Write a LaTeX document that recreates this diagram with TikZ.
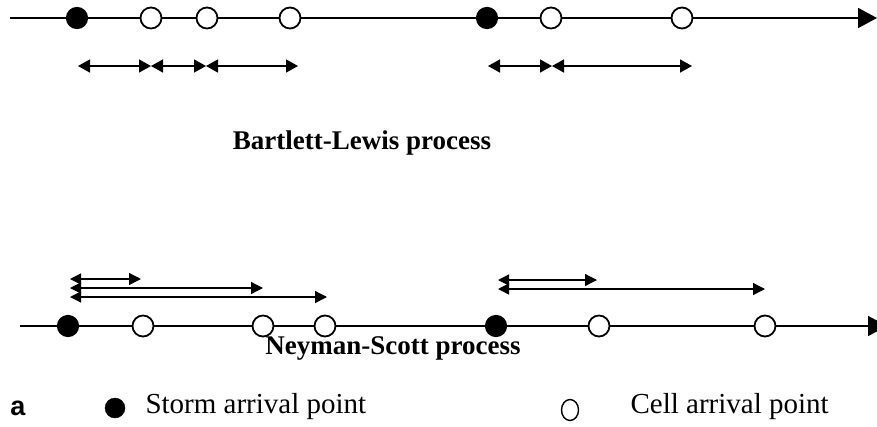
\documentclass[tikz,border=0pt]{standalone}
\usepackage{fontspec}
\setmainfont{Liberation Serif}
\newfontfamily\sansfnt{Liberation Sans}
\usetikzlibrary{arrows.meta,shapes.geometric}
\begin{document}
\begin{tikzpicture}[x=1pt,y=-1pt,
  axis/.style={line width=1.8pt,-{Triangle[length=19pt,width=20pt]}},
  span/.style={line width=1.5pt,{Triangle[length=12pt,width=13pt]}-{Triangle[length=12pt,width=13pt]}},
  fwd/.style={line width=1.3pt,{Triangle[length=11pt,width=11pt]}-{Triangle[length=12pt,width=12pt]}},
  storm/.style={circle,draw,line width=1.2pt,fill=black,minimum size=21pt,inner sep=0pt},
  cell/.style={circle,draw,line width=1.8pt,fill=white,minimum size=21pt,inner sep=0pt},
  title/.style={font=\fontsize{27}{30}\selectfont\bfseries},
  lbl/.style={font=\fontsize{29}{32}\selectfont,anchor=west}]
\useasboundingbox (0,0) rectangle (877,426);
\clip (0,0) rectangle (877,426);
% top axis
\coordinate (ts) at (10,18);
\coordinate (te) at (877,18);
\draw[axis] (ts) -- (te);
\node[storm] (s1) at (77,18) {};
\node[cell] (c1) at (151,18) {};
\node[cell] (c2) at (207,18) {};
\node[cell] (c3) at (290,18) {};
\node[storm] (s2) at (487,18) {};
\node[cell] (c4) at (551,18) {};
\node[cell] (c5) at (682,18) {};
% top spans
\coordinate (a0) at (78,66);
\coordinate (a1) at (151,66);
\coordinate (a2) at (206,66);
\coordinate (a3) at (298,66);
\coordinate (b0) at (488,66);
\coordinate (b1) at (552,66);
\coordinate (b2) at (692,66);
\draw[span] (a0) -- (a1);
\draw[span] (a1) -- (a2);
\draw[span] (a2) -- (a3);
\draw[span] (b0) -- (b1);
\draw[span] (b1) -- (b2);
\node[title] (bl) at (362,143) {Bartlett-Lewis process};
% bottom axis
\coordinate (bs) at (20,326);
\coordinate (be) at (887,326);
\draw[axis] (bs) -- (be);
\node[storm] (s3) at (68,326) {};
\node[cell] (c6) at (143,326) {};
\node[cell] (c7) at (263,326) {};
\node[cell] (c8) at (325,326) {};
\node[storm] (s4) at (496,326) {};
\node[cell] (c9) at (599,326) {};
\node[cell] (c10) at (765,326) {};
% bottom spans
\coordinate (p1) at (70,279);
\coordinate (q1) at (141,279);
\coordinate (p2) at (70,288);
\coordinate (q2) at (263,288);
\coordinate (p3) at (70,297);
\coordinate (q3) at (327,297);
\coordinate (p4) at (498,280);
\coordinate (q4) at (597,280);
\coordinate (p5) at (498,289);
\coordinate (q5) at (765,289);
\draw[fwd] (p1) -- (q1);
\draw[fwd] (p2) -- (q2);
\draw[fwd] (p3) -- (q3);
\draw[fwd] (p4) -- (q4);
\draw[fwd] (p5) -- (q5);
\node[title] (ns) at (393,348) {Neyman-Scott process};
% legend
\node[font=\fontsize{27}{30}\selectfont\sansfnt\bfseries] (la) at (18,408) {a};
\node[draw,fill=black,circle,minimum size=20pt,inner sep=0pt] (lg1) at (115,408) {};
\node[lbl] (lt1) at (142,407) {Storm arrival point};
\node[draw,line width=1.4pt,ellipse,minimum width=17pt,minimum height=21pt,inner sep=0pt] (lg2) at (570,410) {};
\node[lbl] (lt2) at (627,407) {Cell arrival point};
\end{tikzpicture}
\end{document}
